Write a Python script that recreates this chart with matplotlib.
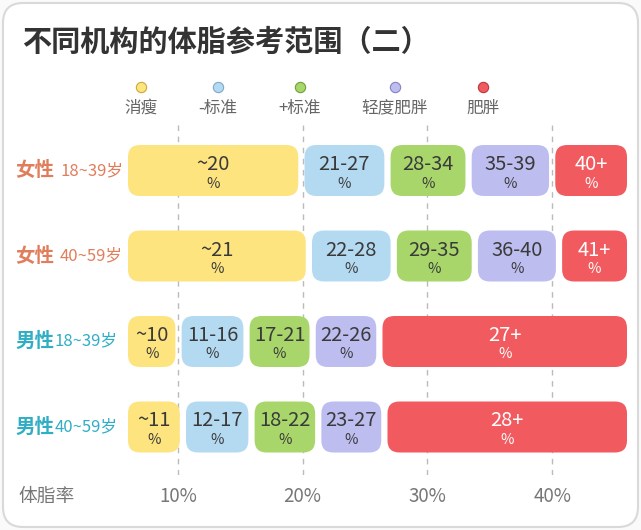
import matplotlib
matplotlib.use("Agg")
import matplotlib.pyplot as plt
from matplotlib.patches import FancyBboxPatch

plt.rcParams["font.family"] = ["Noto Sans CJK SC", "DejaVu Sans"]

### Data

CATEGORIES = ["消瘦", "-标准", "+标准", "轻度肥胖", "肥胖"]
GROUPS = ["女性", "女性", "男性", "男性"]
AGES = ["18~39岁", "40~59岁", "18~39岁", "40~59岁"]

# range edges (% body fat) of each row, left to right
EDGES_F1 = [6, 19.9, 26.8, 33.3, 40.0, 46]
EDGES_F2 = [6, 20.5, 27.3, 33.8, 40.55, 46]
EDGES_M1 = [6, 10.05, 15.5, 20.8, 26.15, 46]
EDGES_M2 = [6, 10.4, 15.9, 21.25, 26.55, 46]

LABELS_F1 = ["~20", "21-27", "28-34", "35-39", "40+"]
LABELS_F2 = ["~21", "22-28", "29-35", "36-40", "41+"]
LABELS_M1 = ["~10", "11-16", "17-21", "22-26", "27+"]
LABELS_M2 = ["~11", "12-17", "18-22", "23-27", "28+"]

X_TICKS = [10, 20, 30, 40]
X_TICK_LABELS = ["10%", "20%", "30%", "40%"]

### Styles

COLORS = ["#FDE47F", "#B4DAF2", "#A8D66B", "#BDBDF0", "#F15B5F"]
EDGE_COLORS = ["#C9A93A", "#7FA9C8", "#6E9F3C", "#8483C2", "#B8383C"]
TEXT_DARK = "#3A3A3A"
GREY = "#777777"
FEMALE = "#E07E5C"
MALE = "#2FAEC4"

W, H = 641, 530
fig = plt.figure(figsize=(W / 100, H / 100), dpi=100)

# overlay in pixel coordinates for the layout pieces
bg = fig.add_axes([0, 0, 1, 1], zorder=0)
bg.set_xlim(0, W)
bg.set_ylim(H, 0)
bg.axis("off")

card = FancyBboxPatch((3, 3), W - 6, H - 6, boxstyle="round,pad=0,rounding_size=20",
                      facecolor="white", edgecolor="#D9D9D9", lw=1.5)
bg.add_patch(card)

bg.text(22, 42, "不同机构的体脂参考范围（二）", fontsize=21, fontweight="black",
        color="#333333", ha="left", va="center")

# legend
LEG_X = [141, 218, 300, 395, 483]
for x, cat, c, ec in zip(LEG_X, CATEGORIES, COLORS, EDGE_COLORS):
    bg.scatter([x], [87], s=55, color=c, edgecolors=ec, linewidths=0.8, zorder=3)
    bg.text(x, 108, cat, fontsize=12, fontweight="light", color="#666666",
            ha="center", va="center")

# row labels
ROW_Y = [170.5, 256, 341, 427]
for y, g, a in zip(ROW_Y, GROUPS, AGES):
    c = FEMALE if g == "女性" else MALE
    bg.text(15, y, g, fontsize=14, fontweight="bold", color=c, ha="left", va="center")
    x2 = 60 if g == "女性" else 55
    bg.text(x2, y, a, fontsize=12, fontweight="light", color=c, ha="left", va="center")

bg.text(18, 496, "体脂率", fontsize=13.5, fontweight="light", color=GREY,
        ha="left", va="center")

### Data axes
X0, X1 = 128, 627
Y_TOP, Y_BOT = 120, 475
ax = fig.add_axes([X0 / W, (H - Y_BOT) / H, (X1 - X0) / W, (Y_BOT - Y_TOP) / H], zorder=1)
ax.patch.set_alpha(0)
XMIN, XMAX = 6, 46
row_step = 85.5
ax.set_xlim(XMIN, XMAX)
ylo = (Y_TOP - ROW_Y[0]) / row_step
yhi = (Y_BOT - ROW_Y[0]) / row_step
ax.set_ylim(yhi, ylo)

px_x = (X1 - X0) / (XMAX - XMIN)
px_y = row_step
radius_px = 12
gap = 0.5
box_h = 51 / px_y

for s in ax.spines.values():
    s.set_visible(False)
ax.set_yticks([])
ax.set_xticks(X_TICKS)
ax.set_xticklabels(X_TICK_LABELS, fontweight="light")
ax.tick_params(axis="x", length=0, pad=8, labelsize=13.5, labelcolor=GREY)

for x in X_TICKS:
    ax.axvline(x, color="#BBBBBB", lw=1, ls=(0, (4, 4)), zorder=0)

rows = [(EDGES_F1, LABELS_F1), (EDGES_F2, LABELS_F2),
        (EDGES_M1, LABELS_M1), (EDGES_M2, LABELS_M2)]

for i, (edges, labels) in enumerate(rows):
    for j in range(5):
        left = edges[j] + (gap / 2 if j > 0 else 0)
        right = edges[j + 1] - (gap / 2 if j < 4 else 0)
        box = FancyBboxPatch((left, i - box_h / 2), right - left, box_h,
                             boxstyle=f"round,pad=0,rounding_size={radius_px / px_x}",
                             mutation_aspect=px_x / px_y,
                             facecolor=COLORS[j], edgecolor="none", zorder=2)
        ax.add_patch(box)
        tc = "white" if j == 4 else TEXT_DARK
        cx = (left + right) / 2
        ax.text(cx, i - 6 / px_y, labels[j], fontsize=14.5, color=tc,
                ha="center", va="center", zorder=3)
        ax.text(cx, i + 13 / px_y, "%", fontsize=10.5, color=tc,
                ha="center", va="center", zorder=3)

fig.savefig("out.png", dpi=100, facecolor="#FAFAFA")
